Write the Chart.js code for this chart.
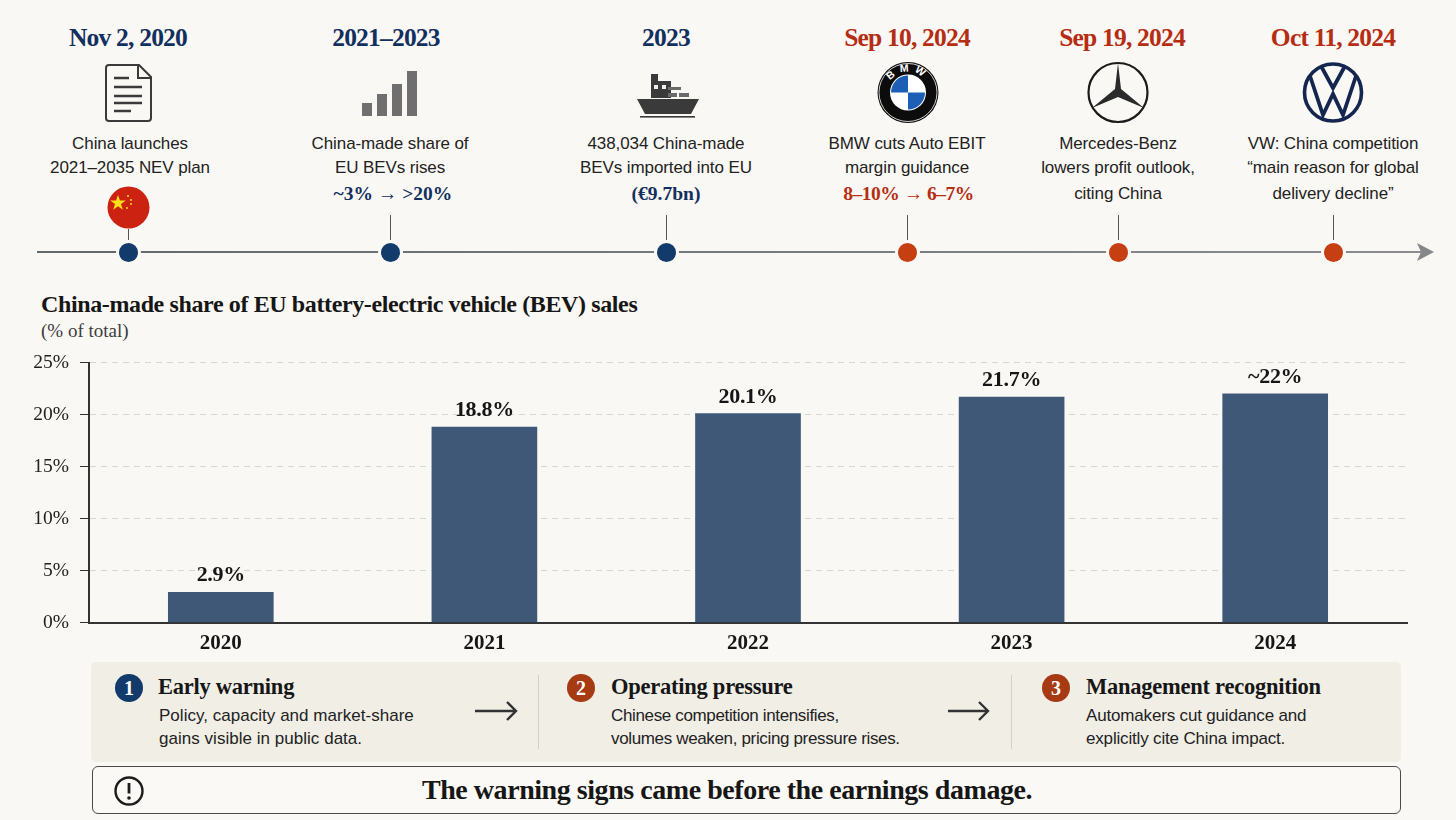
<!DOCTYPE html>
<html>
<head>
<meta charset="utf-8">
<title>China-made share of EU BEV sales</title>
<script src="https://cdn.jsdelivr.net/npm/chart.js@4"></script>
<style>
  html, body { margin: 0; padding: 0; background: #faf8f4; }
  #page { position: relative; width: 1456px; height: 820px; overflow: hidden; background: #faf8f4; color: #1c1c1c; font-family: "Liberation Sans", sans-serif; }
  #page > * { position: absolute; }

  /* timeline columns */
  .event { top: 0; width: 240px; height: 270px; margin-left: -120px; text-align: center; z-index: 1; }
  .event:nth-of-type(1) { left: 128px; }
  .event:nth-of-type(2) { left: 390px; }
  .event:nth-of-type(3) { left: 666px; }
  .event:nth-of-type(4) { left: 907px; }
  .event:nth-of-type(5) { left: 1118px; }
  .event:nth-of-type(6) { left: 1333px; }
  .event > * { position: absolute; left: 0; right: 0; }
  .date { top: 23px; font: bold 25.5px/30px "Liberation Serif", serif; color: #12305f; letter-spacing: -0.8px; }
  .event.late .date { color: #b52d12; }
  .line1, .line2, .line3 { font-size: 17px; line-height: 24px; letter-spacing: -0.1px; color: #222; }
  .line1 { top: 132px; }
  .line2 { top: 156px; }
  .line3 { top: 182px; }
  .event:nth-of-type(1) .line1, .event:nth-of-type(1) .line2 { margin-left: 4px; }
  .event:nth-of-type(2) .date { margin-left: -8px; }
  .event:nth-of-type(2) .note { margin-left: 6px; }
  .event:nth-of-type(5) .date { margin-left: 8px; }
  .note { top: 182px; font: bold 19.5px/24px "Liberation Serif", serif; color: #12305f; }
  .event.late .note { color: #b52d12; letter-spacing: -0.5px; margin-left: 3px; }
  .stem { top: 215px; left: 119.5px; right: auto; width: 1px; height: 25px; background: #555; }
  .dot { top: 243px; left: 110.5px; right: auto; width: 19px; height: 19px; border-radius: 50%; background: #123a6b; box-shadow: 0 0 0 3px #faf8f4; }
  .event.late .dot { background: #c63f12; }
  #axisline { left: 37px; top: 251px; width: 1390px; height: 2px; background: linear-gradient(90deg, #63676c, #8a8c8e); }
  #arrowhead { left: 1416px; top: 242px; }

  #title { left: 41px; top: 290px; font: bold 24px/28px "Liberation Serif", serif; letter-spacing: -0.38px; color: #161616; white-space: nowrap; }
  #subtitle { left: 41px; top: 320px; font: 19px/22px "Liberation Serif", serif; color: #3c3c3c; }
  #chartbox { left: 0; top: 340px; width: 1456px; height: 320px; }

  #panel { left: 91px; top: 662px; width: 1310px; height: 100px; background: #f1eee6; border-radius: 5px; }
  .badge { top: 674px; width: 28px; height: 28px; border-radius: 50%; color: #fff; text-align: center; font: bold 20px/28px "Liberation Serif", serif; }
  .step { top: 673px; font: bold 22.5px/28px "Liberation Serif", serif; letter-spacing: -0.25px; color: #161616; white-space: nowrap; }
  .body { font-size: 17px; line-height: 23px; letter-spacing: -0.1px; color: #222; white-space: nowrap; }
  .divider { top: 675px; width: 1px; height: 74px; background: #d6d0c6; }
  #callout { left: 92px; top: 766px; width: 1268px; padding-right: 39px; height: 46px; border: 1.5px solid #4a4a4a; border-radius: 6px; background: #fbf9f5; text-align: center; font: bold 28px/46px "Liberation Serif", serif; letter-spacing: -0.45px; color: #161616; }
</style>
</head>
<body>
<div id="page">
  <div id="axisline"></div>
  <svg id="arrowhead" width="20" height="20" viewBox="0 0 20 20"><path d="M1 1 L18 10 L1 19 L5 10 Z" fill="#85878a"/></svg>

  <!-- icons -->
  <svg style="left:0;top:0" width="1456" height="240" viewBox="0 0 1456 240">
    <!-- document -->
    <path d="M109 65 H139 L151 77 V118 Q151 121 148 121 H109 Q106 121 106 118 V68 Q106 65 109 65 Z" fill="none" stroke="#3a3a3a" stroke-width="2"/>
    <path d="M138 65 V78 H151" fill="none" stroke="#3a3a3a" stroke-width="2"/>
    <path d="M114 78 H129 M114 87 H142 M114 96 H142 M114 103 H142 M114 111 H131" stroke="#3a3a3a" stroke-width="2.4"/>
    <!-- rising bars -->
    <g fill="#6f6f6f">
      <rect x="362" y="103" width="10" height="13"/>
      <rect x="377" y="94" width="10" height="22"/>
      <rect x="392" y="84" width="10" height="32"/>
      <rect x="407" y="71" width="10" height="45"/>
    </g>
    <!-- ship -->
    <g fill="#3a3a3a">
      <rect x="651" y="81" width="20" height="17"/>
      <rect x="651" y="74" width="7" height="7"/>
      <path d="M637 99 H699 L691 114 H645 Z"/>
      <rect x="668" y="87" width="13" height="3" fill="#6a6a6a"/>
      <rect x="668" y="93" width="9" height="4" fill="#6a6a6a"/>
      <rect x="679" y="93" width="10" height="4" fill="#6a6a6a"/>
      <rect x="640" y="116" width="55" height="1.6"/>
    </g>
    <rect x="654" y="85" width="4" height="4" fill="#eee"/>
    <rect x="662" y="85" width="4" height="4" fill="#eee"/>
    <!-- flag -->
    <circle cx="128.5" cy="207.5" r="21" fill="#cc2211"/>
    <path d="M118 195 l1.9 5.6 5.9 0 -4.8 3.5 1.8 5.6 -4.8 -3.5 -4.8 3.5 1.8 -5.6 -4.8 -3.5 5.9 0 z" fill="#ffdf1a"/>
    <g fill="#ffdf1a"><circle cx="128" cy="196" r="1"/><circle cx="131" cy="200" r="1"/><circle cx="131" cy="204" r="1"/><circle cx="127" cy="208" r="1"/></g>
    <rect x="128" y="229" width="1" height="11" fill="#555"/>
    <!-- BMW -->
    <circle cx="908" cy="92.500" r="30.500" fill="#0c0c0c"/>
    <circle cx="908" cy="92.500" r="29" fill="none" stroke="#fff" stroke-width="0.8"/>
    <circle cx="908" cy="92.500" r="18" fill="#fff"/>
    <path d="M908 92.500 V75.500 A17 17 0 0 0 891 92.500 Z M908 92.500 V109.500 A17 17 0 0 0 925 92.500 Z" fill="#1c5fb5"/>
    <defs><path id="bmwring" d="M887 92.500 A21 21 0 0 1 929 92.500"/></defs>
    <text font-family="Liberation Sans" font-weight="bold" font-size="10.500" fill="#fff" text-anchor="middle"><textPath href="#bmwring" startOffset="50%" letter-spacing="5">BMW</textPath></text>
    <!-- Mercedes -->
    <circle cx="1118" cy="92.500" r="29.500" fill="none" stroke="#1b1b1b" stroke-width="2.200"/>
    <path d="M1118 63 L1121 89 L1144 108 L1118 97 L1092 108 L1115 89 Z" fill="#2a2a2a"/>
    <!-- VW -->
    <circle cx="1333" cy="92.500" r="28.500" fill="none" stroke="#14264f" stroke-width="3.600"/>
    <path d="M1321 66 L1333 88 L1345 66 M1310 76 L1323 115 L1333 94 L1343 115 L1356 76" fill="none" stroke="#14264f" stroke-width="3.800" stroke-linejoin="miter"/>
  </svg>

  <div id="title">China-made share of EU battery-electric vehicle (BEV) sales</div>
  <div id="subtitle">(% of total)</div>
  <div id="chartbox"><canvas id="shareChart"></canvas></div>

  <div id="panel"></div>
  <div class="badge" style="left:115px;background:#123a6b">1</div>
  <div class="badge" style="left:567px;background:#a63a12">2</div>
  <div class="badge" style="left:1042px;background:#a63a12">3</div>
  <div class="step" style="left:158px">Early warning</div>
  <div class="step" style="left:611px">Operating pressure</div>
  <div class="step" style="left:1086px">Management recognition</div>
  <div class="body" style="left:159px;top:704px;letter-spacing:0.03px">Policy, capacity and market-share<br>gains visible in public data.</div>
  <div class="body" style="left:611px;top:704px;letter-spacing:-0.35px">Chinese competition intensifies,<br>volumes weaken, pricing pressure rises.</div>
  <div class="body" style="left:1086px;top:704px;letter-spacing:-0.17px">Automakers cut guidance and<br>explicitly cite China impact.</div>
  <svg style="left:470px;top:698px" width="52" height="26" viewBox="0 0 52 26"><path d="M5 13 H46 M37 4 L46 13 L37 22" fill="none" stroke="#333" stroke-width="2.400"/></svg>
  <svg style="left:943px;top:698px" width="52" height="26" viewBox="0 0 52 26"><path d="M5 13 H45 M36 4 L45 13 L36 22" fill="none" stroke="#333" stroke-width="2.400"/></svg>
  <div class="divider" style="left:538px"></div>
  <div class="divider" style="left:1011px"></div>

  <div id="callout">The warning signs came before the earnings damage.</div>
  <svg style="left:113px;top:775px" width="32" height="32" viewBox="0 0 32 32">
    <circle cx="16" cy="16" r="13.500" fill="none" stroke="#1c1c1c" stroke-width="2.400"/>
    <path d="M16 8 V18.500" stroke="#1c1c1c" stroke-width="2.800"/>
    <circle cx="16" cy="23" r="1.800" fill="#1c1c1c"/>
  </svg>
</div>

<script>
const years = ['2020', '2021', '2022', '2023', '2024'];
const shareValues = [2.9, 18.8, 20.1, 21.7, 22];
const shareLabels = ['2.9%', '18.8%', '20.1%', '21.7%', '~22%'];
const yTicks = [0, 5, 10, 15, 20, 25];

const eventDates = ['Nov 2, 2020', '2021–2023', '2023', 'Sep 10, 2024', 'Sep 19, 2024', 'Oct 11, 2024'];
const eventLines = [
  ['China launches', '2021–2035 NEV plan'],
  ['China-made share of', 'EU BEVs rises'],
  ['438,034 China-made', 'BEVs imported into EU'],
  ['BMW cuts Auto EBIT', 'margin guidance'],
  ['Mercedes-Benz', 'lowers profit outlook,', 'citing China'],
  ['VW: China competition', '“main reason for global', 'delivery decline”']
];
const eventNotes = ['', '~3% → >20%', '(€9.7bn)', '8–10% → 6–7%', '', ''];
const eventLate = [false, false, false, true, true, true];

function addEl(parent, cls, text) {
  const el = document.createElement('div');
  el.className = cls;
  if (text) el.textContent = text;
  parent.appendChild(el);
  return el;
}

// timeline columns, left offsets are in the stylesheet
const page = document.querySelector('#page');
const firstChild = page.firstChild;
eventDates.forEach((date, i) => {
  const ev = document.createElement('div');
  ev.className = eventLate[i] ? 'event late' : 'event';
  addEl(ev, 'date', date);
  eventLines[i].forEach((txt, n) => addEl(ev, 'line' + (n + 1), txt));
  if (eventNotes[i]) addEl(ev, 'note', eventNotes[i]);
  if (i > 0) addEl(ev, 'stem');
  addEl(ev, 'dot');
  page.insertBefore(ev, firstChild);
});

// draws the value above each bar
const barLabels = {
  id: 'barLabels',
  afterDatasetsDraw(chart) {
    const ctx = chart.ctx;
    ctx.save();
    ctx.font = 'bold 22px "Liberation Serif"';
    ctx.letterSpacing = '-0.3px';
    ctx.fillStyle = '#161616';
    ctx.textAlign = 'center';
    ctx.textBaseline = 'alphabetic';
    chart.getDatasetMeta(0).data.forEach((bar, i) => {
      ctx.fillText(shareLabels[i], bar.x, bar.y - 11);
    });
    ctx.restore();
  }
};

window.onload = function() {
  const ctx = document.querySelector('#shareChart');

  new Chart(ctx, {
    type: 'bar',
    data: {
      labels: years,
      datasets: [{
        label: 'China-made share',
        data: shareValues,
        backgroundColor: '#3f5878',
        barThickness: 105
      }]
    },
    plugins: [barLabels],
    options: {
      responsive: true,
      maintainAspectRatio: false,
      animation: false,
      layout: { padding: { top: 21, right: 49, bottom: 0, left: 0 } },
      plugins: { legend: { display: false }, tooltip: { enabled: false } },
      scales: {
        x: {
          grid: { display: false },
          border: { color: '#333', width: 2 },
          ticks: { color: '#161616', font: { family: 'Liberation Serif', size: 21, weight: 'bold' }, padding: 0 },
          afterFit(scale) { scale.height = 37.5; }
        },
        y: {
          min: 0,
          max: 25,
          afterBuildTicks(scale) { scale.ticks = yTicks.map(v => ({ value: v })); },
          grid: { color: '#d8d5cf', tickColor: '#333', tickLength: 9, tickBorderDash: [], lineWidth: 1 },
          border: { color: '#333', width: 2, dash: [6, 5] },
          ticks: {
            color: '#222',
            font: { family: 'Liberation Serif', size: 19.5 },
            padding: 11,
            callback: v => v + '%'
          },
          afterFit(scale) { scale.width = 89; }
        }
      }
    }
  });
};
</script>
</body>
</html>
